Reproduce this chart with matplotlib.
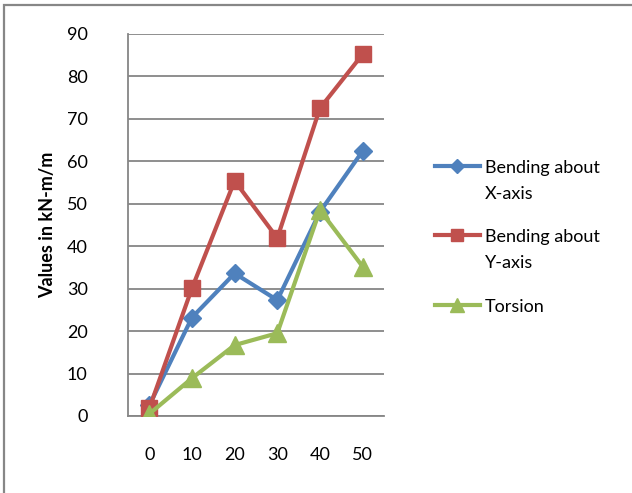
import matplotlib.pyplot as plt
from matplotlib.patches import Rectangle

# stage positions along the member
positions = [0, 10, 20, 30, 40, 50]

bending_x = [2.5, 23.2, 33.6, 27.3, 48.1, 62.4]
bending_y = [1.8, 30.1, 55.4, 41.9, 72.5, 85.2]
torsion = [0.5, 8.9, 16.7, 19.5, 48.5, 35.2]

plt.rcParams['font.family'] = ['Lato', 'DejaVu Sans']
plt.rcParams['font.size'] = 13

fig = plt.figure(figsize=(6.32, 4.93), dpi=100)
ax = fig.add_axes([0.2025, 0.1562, 0.405, 0.775])

# outer chart border (runs off the right and bottom edges)
fig.patches.append(Rectangle((0.0063, -0.05), 1.1, 1.0399, transform=fig.transFigure,
                             fill=False, edgecolor='#878787', linewidth=1.6, zorder=0))

idx = range(len(positions))
ax.plot(idx, bending_x, color='#4F81BD', linewidth=3, marker='D', markersize=9,
        label='Bending about\nX-axis', zorder=3)
ax.plot(idx, bending_y, color='#C0504D', linewidth=3, marker='s', markersize=11,
        label='Bending about\nY-axis', zorder=4)
ax.plot(idx, torsion, color='#9BBB59', linewidth=3, marker='^', markersize=13,
        label='Torsion', zorder=5)

ax.set_xlim(-0.5, len(positions) - 0.5)
ax.set_ylim(0, 90)
ax.set_yticks(range(0, 91, 10))
ax.set_xticks(list(idx))
ax.set_xticklabels([str(p) for p in positions])
ax.tick_params(axis='both', length=0, colors='black')
ax.tick_params(axis='y', pad=29)
ax.tick_params(axis='x', pad=22)

ax.grid(axis='y', color='#868686', linewidth=1.3)
ax.set_axisbelow(True)
for s in ['top', 'right']:
    ax.spines[s].set_visible(False)
for s in ['left', 'bottom']:
    ax.spines[s].set_color('#868686')
    ax.spines[s].set_linewidth(1.3)

ax.set_ylabel('Values in kN-m/m', fontweight='bold')
ax.yaxis.set_label_coords(-0.28, 0.5)

leg = ax.legend(loc='upper left', bbox_to_anchor=(1.17, 0.69), frameon=False,
                handlelength=2.5, handletextpad=0.28, labelspacing=1.5,
                borderaxespad=0, markerscale=0.8)
for t in leg.get_texts():
    t.set_linespacing(1.8)
# put each key symbol level with the first line of its label
for col in leg._legend_handle_box.get_children():
    for row in col.get_children():
        row.align = 'top'

fig.savefig('out.png', dpi=100)
